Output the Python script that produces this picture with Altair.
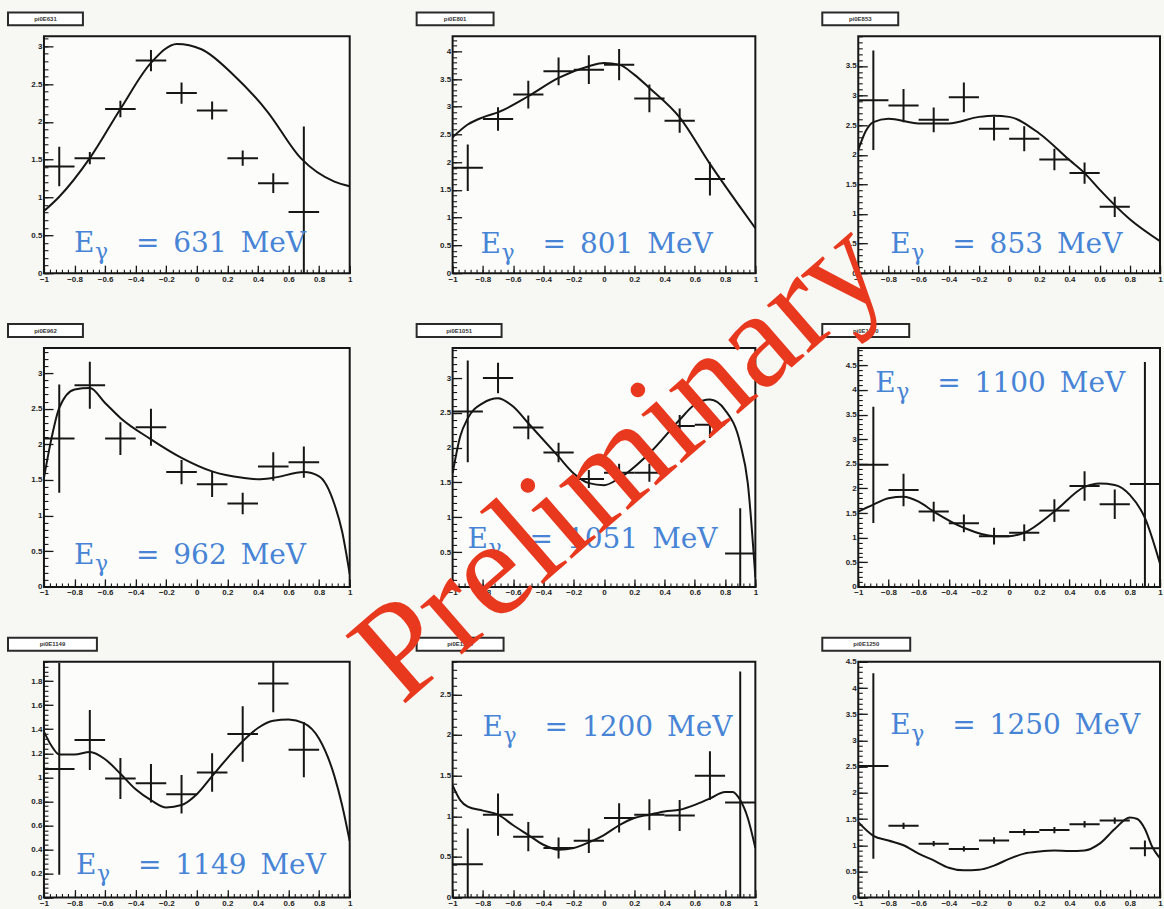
import altair as alt
import pandas as pd

# ---------------- data ----------------
energies = [631, 801, 853, 962, 1051, 1100, 1149, 1200, 1250]
hist_names = ["pi0E631", "pi0E801", "pi0E853", "pi0E962", "pi0E1051",
              "pi0E1100", "pi0E1149", "pi0E1200", "pi0E1250"]
bin_centers = [-0.9, -0.7, -0.5, -0.3, -0.1, 0.1, 0.3, 0.5, 0.7, 0.9]
bin_half_width = 0.1

val_631 = [1.41, 1.52, 2.17, 2.81, 2.38, 2.15, 1.52, 1.19, 0.81, None]
err_631 = [0.26, 0.08, 0.11, 0.14, 0.14, 0.12, 0.10, 0.13, 1.13, None]
val_801 = [1.90, 2.78, 3.22, 3.64, 3.67, 3.76, 3.15, 2.75, 1.70, None]
err_801 = [0.42, 0.21, 0.25, 0.25, 0.26, 0.28, 0.25, 0.22, 0.30, None]
val_853 = [2.92, 2.83, 2.59, 2.97, 2.44, 2.27, 1.92, 1.69, 1.12, None]
err_853 = [0.84, 0.28, 0.21, 0.25, 0.20, 0.21, 0.18, 0.18, 0.17, None]
val_962 = [2.08, 2.83, 2.08, 2.24, 1.61, 1.44, 1.17, 1.69, 1.75, None]
err_962 = [0.76, 0.33, 0.23, 0.26, 0.17, 0.18, 0.15, 0.20, 0.22, None]
val_1051 = [2.52, 3.00, 2.29, 1.93, 1.55, 1.64, 1.64, 2.31, 2.33, 0.48]
err_1051 = [0.73, 0.22, 0.17, 0.14, 0.13, 0.13, 0.13, 0.16, 0.19, 0.65]
val_1100 = [2.48, 1.97, 1.53, 1.29, 1.03, 1.10, 1.55, 2.05, 1.68, 2.09]
err_1100 = [1.18, 0.33, 0.20, 0.18, 0.17, 0.17, 0.23, 0.30, 0.30, 2.48]
val_1149 = [1.07, 1.31, 0.99, 0.95, 0.86, 1.04, 1.36, 1.78, 1.23, None]
err_1149 = [0.88, 0.25, 0.17, 0.16, 0.16, 0.16, 0.23, 0.24, 0.23, None]
val_1200 = [0.41, 1.02, 0.75, 0.61, 0.70, 0.98, 1.02, 1.01, 1.50, 1.17]
err_1200 = [0.44, 0.26, 0.18, 0.13, 0.15, 0.18, 0.19, 0.19, 0.30, 1.61]
val_1250 = [2.51, 1.37, 1.03, 0.93, 1.09, 1.25, 1.29, 1.40, 1.47, 0.94]
err_1250 = [1.77, 0.06, 0.05, 0.05, 0.06, 0.06, 0.06, 0.06, 0.06, 0.15]

fit_x_631 = [-1.0, -0.9, -0.7, -0.5, -0.3, -0.13, 0.03, 0.24, 0.46, 0.68, 0.9, 1.0]
fit_y_631 = [0.82, 1.01, 1.52, 2.17, 2.78, 3.03, 2.96, 2.62, 2.14, 1.52, 1.21, 1.15]
fit_x_801 = [-1.0, -0.9, -0.8, -0.7, -0.5, -0.3, -0.1, 0.0, 0.1, 0.2, 0.3, 0.5, 0.7, 0.9, 1.0]
fit_y_801 = [2.45, 2.68, 2.81, 2.90, 3.19, 3.52, 3.73, 3.79, 3.76, 3.58, 3.34, 2.81, 1.97, 1.19, 0.81]
fit_x_853 = [-1.0, -0.95, -0.9, -0.8, -0.6, -0.4, -0.2, -0.1, 0.0, 0.2, 0.4, 0.5, 0.6, 0.8, 1.0]
fit_y_853 = [2.08, 2.40, 2.55, 2.61, 2.53, 2.53, 2.64, 2.66, 2.64, 2.36, 1.91, 1.69, 1.41, 0.91, 0.54]
fit_x_962 = [-1.0, -0.95, -0.9, -0.8, -0.7, -0.6, -0.5, -0.3, -0.1, 0.1, 0.3, 0.4, 0.5,
             0.7, 0.8, 0.9, 0.95, 1.0]
fit_y_962 = [1.53, 2.09, 2.51, 2.77, 2.79, 2.58, 2.37, 2.07, 1.81, 1.62, 1.53, 1.51, 1.53,
             1.61, 1.55, 1.16, 0.78, 0.18]
fit_x_1051 = [-1.0, -0.95, -0.9, -0.8, -0.7, -0.6, -0.5, -0.3, -0.2, -0.1, 0.0, 0.1, 0.3,
              0.5, 0.6, 0.7, 0.8, 0.9, 0.95, 1.0]
fit_y_1051 = [1.63, 2.16, 2.42, 2.64, 2.71, 2.59, 2.35, 1.87, 1.63, 1.49, 1.46, 1.56, 1.92,
              2.40, 2.62, 2.69, 2.54, 2.06, 1.49, 0.14]
fit_x_1100 = [-1.0, -0.9, -0.8, -0.7, -0.6, -0.5, -0.3, -0.1, 0.0, 0.1, 0.3, 0.5, 0.6, 0.7,
              0.8, 0.9, 1.0]
fit_y_1100 = [1.53, 1.67, 1.80, 1.83, 1.73, 1.53, 1.20, 1.03, 1.03, 1.10, 1.53, 2.03, 2.10, 2.07,
              1.87, 1.40, 0.47]
fit_x_1149 = [-1.0, -0.95, -0.9, -0.8, -0.7, -0.6, -0.5, -0.4, -0.3, -0.2, -0.1, 0.0, 0.1,
              0.2, 0.3, 0.4, 0.5, 0.6, 0.7, 0.8, 0.9, 0.95, 1.0]
fit_y_1149 = [1.38, 1.26, 1.19, 1.19, 1.21, 1.15, 1.03, 0.90, 0.81, 0.75, 0.77, 0.86, 1.01,
              1.16, 1.30, 1.41, 1.47, 1.48, 1.45, 1.32, 1.01, 0.77, 0.47]
fit_x_1200 = [-1.0, -0.95, -0.9, -0.8, -0.7, -0.6, -0.5, -0.4, -0.3, -0.2, -0.1, 0.0, 0.1,
              0.2, 0.3, 0.4, 0.5, 0.6, 0.7, 0.8, 0.85, 0.9, 0.95, 1.0]
fit_y_1200 = [1.38, 1.20, 1.12, 1.07, 1.02, 0.89, 0.77, 0.65, 0.59, 0.61, 0.68, 0.77, 0.89,
              0.98, 1.02, 1.06, 1.08, 1.14, 1.22, 1.30, 1.30, 1.20, 0.98, 0.61]
fit_x_1250 = [-1.0, -0.9, -0.8, -0.7, -0.6, -0.5, -0.4, -0.3, -0.2, -0.1, 0.0, 0.1, 0.2,
              0.3, 0.4, 0.5, 0.6, 0.7, 0.8, 0.85, 0.9, 0.95, 1.0]
fit_y_1250 = [1.44, 1.18, 1.09, 1.00, 0.84, 0.71, 0.57, 0.52, 0.53, 0.61, 0.74, 0.84, 0.88,
              0.90, 0.89, 0.90, 1.03, 1.31, 1.53, 1.50, 1.31, 0.96, 0.75]

values = [val_631, val_801, val_853, val_962, val_1051, val_1100, val_1149, val_1200, val_1250]
errors = [err_631, err_801, err_853, err_962, err_1051, err_1100, err_1149, err_1200, err_1250]
fit_x = [fit_x_631, fit_x_801, fit_x_853, fit_x_962, fit_x_1051, fit_x_1100, fit_x_1149,
         fit_x_1200, fit_x_1250]
fit_y = [fit_y_631, fit_y_801, fit_y_853, fit_y_962, fit_y_1051, fit_y_1100, fit_y_1149,
         fit_y_1200, fit_y_1250]

y_max = [3.13, 4.27, 4.0, 3.35, 3.43, 4.85, 1.96, 2.9, 4.5]
y_major = [
    [0, 0.5, 1, 1.5, 2, 2.5, 3],
    [0, 0.5, 1, 1.5, 2, 2.5, 3, 3.5, 4],
    [0, 0.5, 1, 1.5, 2, 2.5, 3, 3.5],
    [0, 0.5, 1, 1.5, 2, 2.5, 3],
    [0, 0.5, 1, 1.5, 2, 2.5, 3],
    [0, 0.5, 1, 1.5, 2, 2.5, 3, 3.5, 4, 4.5],
    [0, 0.2, 0.4, 0.6, 0.8, 1, 1.2, 1.4, 1.6, 1.8],
    [0, 0.5, 1, 1.5, 2, 2.5],
    [0, 0.5, 1, 1.5, 2, 2.5, 3, 3.5, 4, 4.5],
]
x_major = [-1, -0.8, -0.6, -0.4, -0.2, 0, 0.2, 0.4, 0.6, 0.8, 1]

# ---------------- layout / style ----------------
col_w = [306, 303, 302]
row_h = [237, 239, 236]
label_pos = [(30, 208), (28, 209), (32, 209), (30, 208), (15, 192), (17, 36),
             (32, 204), (30, 66), (32, 64)]
box_w = [75, 77, 76, 75, 85, 87, 89, 87, 88]
BLUE = "#4784d6"
INK = "#161616"
AX_FONT = "Liberation Sans"


def minor(major):
    step = (major[1] - major[0]) / 5.0
    out = []
    top = major[-1] + (major[1] - major[0])
    k = 0
    while major[0] + k * step <= top + 1e-9:
        out.append(round(major[0] + k * step, 4))
        k += 1
    return out


x_minor = [v for v in minor(x_major) if v <= 1.0001]


def panel(i):
    w = col_w[i % 3]
    h = row_h[i // 3]
    rows = [(x, v, e) for x, v, e in zip(bin_centers, values[i], errors[i]) if v is not None]
    pts = pd.DataFrame(rows, columns=["x", "y", "e"])
    pts["lo"] = pts["y"] - pts["e"]
    pts["hi"] = pts["y"] + pts["e"]
    pts["xl"] = pts["x"] - bin_half_width
    pts["xr"] = pts["x"] + bin_half_width
    cur = pd.DataFrame({"x": fit_x[i], "y": fit_y[i]})
    lab = pd.DataFrame({"E": ["E"], "g": ["\u03b3"],
                        "rest": ["=\u2002" + str(energies[i]) + "\u2002MeV"],
                        "name": [hist_names[i]], "wm": ["Preliminary"]})

    xs = alt.Scale(domain=[-1, 1], nice=False, zero=False)
    ys = alt.Scale(domain=[0, y_max[i]], nice=False, zero=False)
    ym = y_major[i]
    y_minor = [v for v in minor(ym) if v <= y_max[i] + 1e-9]

    lab_style = dict(labelFont=AX_FONT, labelFontSize=8, labelFontWeight="bold",
                     labelColor="#1e1e1e", domain=False, grid=False, title=None,
                     tickColor=INK, tickWidth=1.3, labelOverlap=False)

    ax_x_major = alt.Axis(values=x_major, tickSize=8, offset=-8, labelPadding=2,
                          labelFlush=False, format="~g", orient="bottom", **lab_style)
    ax_y_major = alt.Axis(values=ym, tickSize=9, offset=-9, labelPadding=2,
                          format="~g", orient="left", **lab_style)
    ax_x_minor = alt.Axis(values=x_minor, tickSize=4, offset=-4, labels=False, domain=False,
                          grid=False, title=None, tickColor=INK, tickWidth=1.1, orient="bottom")
    ax_y_minor = alt.Axis(values=y_minor, tickSize=4, offset=-4, labels=False, domain=False,
                          grid=False, title=None, tickColor=INK, tickWidth=1.1, orient="left")

    fit = alt.Chart(cur).mark_line(color=INK, strokeWidth=2, clip=True,
                                   interpolate="monotone").encode(
        x=alt.X("x:Q", scale=xs, axis=ax_x_major),
        y=alt.Y("y:Q", scale=ys, axis=ax_y_major),
    )
    vbar = alt.Chart(pts).mark_rule(color=INK, strokeWidth=2, clip=True).encode(
        x=alt.X("x:Q", scale=xs, axis=ax_x_minor),
        y=alt.Y("lo:Q", scale=ys, axis=ax_y_minor),
        y2="hi:Q",
    )
    hbar = alt.Chart(pts).mark_rule(color=INK, strokeWidth=2, clip=True).encode(
        x=alt.X("xl:Q", scale=xs, axis=None),
        x2="xr:Q",
        y=alt.Y("y:Q", scale=ys, axis=None),
    )
    px, py = label_pos[i]
    t_e = alt.Chart(lab).mark_text(font="DejaVu Serif", fontSize=28, color=BLUE,
                                   align="left", baseline="middle").encode(
        x=alt.value(px), y=alt.value(py), text="E:N")
    t_g = alt.Chart(lab).mark_text(font="DejaVu Serif", fontSize=22, color=BLUE,
                                   align="left", baseline="middle").encode(
        x=alt.value(px + 21), y=alt.value(py + 8), text="g:N")
    t_r = alt.Chart(lab).mark_text(font="DejaVu Serif", fontSize=28, color=BLUE,
                                   align="left", baseline="middle").encode(
        x=alt.value(px + 62), y=alt.value(py), text="rest:N")
    box = alt.Chart(lab).mark_rect(fill="#ffffff", stroke="#2a2a2a", strokeWidth=2).encode(
        x=alt.value(-36), x2=alt.value(-36 + box_w[i]), y=alt.value(-24), y2=alt.value(-11))
    box_t = alt.Chart(lab).mark_text(font=AX_FONT, fontSize=6, fontWeight="bold",
                                     color="#333", align="center", baseline="middle").encode(
        x=alt.value(-36 + box_w[i] / 2), y=alt.value(-17.5), text="name:N")

    layers = [fit, vbar, hbar, t_e, t_g, t_r, box, box_t]
    if i == 8:
        wm = alt.Chart(lab).mark_text(font="Liberation Serif", fontSize=138, color="#e8391f",
                                      align="center", baseline="middle", angle=319).encode(
            x=alt.value(-238), y=alt.value(-200), text="wm:N")
        layers.append(wm)
    return alt.layer(*layers).resolve_axis(x="independent", y="independent").properties(
        width=w, height=h)


panels = [panel(i) for i in range(9)]
chart = alt.concat(*panels, columns=3, spacing={"row": 75, "column": 103},
                   bounds="flush").properties(
    padding={"left": 6, "top": 10, "right": 0, "bottom": 0},
    background="#f7f7f3",
).configure_view(stroke=INK, strokeWidth=2, fill="#fcfcfa")

chart.save("out.html", embed_options={"renderer": "svg", "actions": False})
